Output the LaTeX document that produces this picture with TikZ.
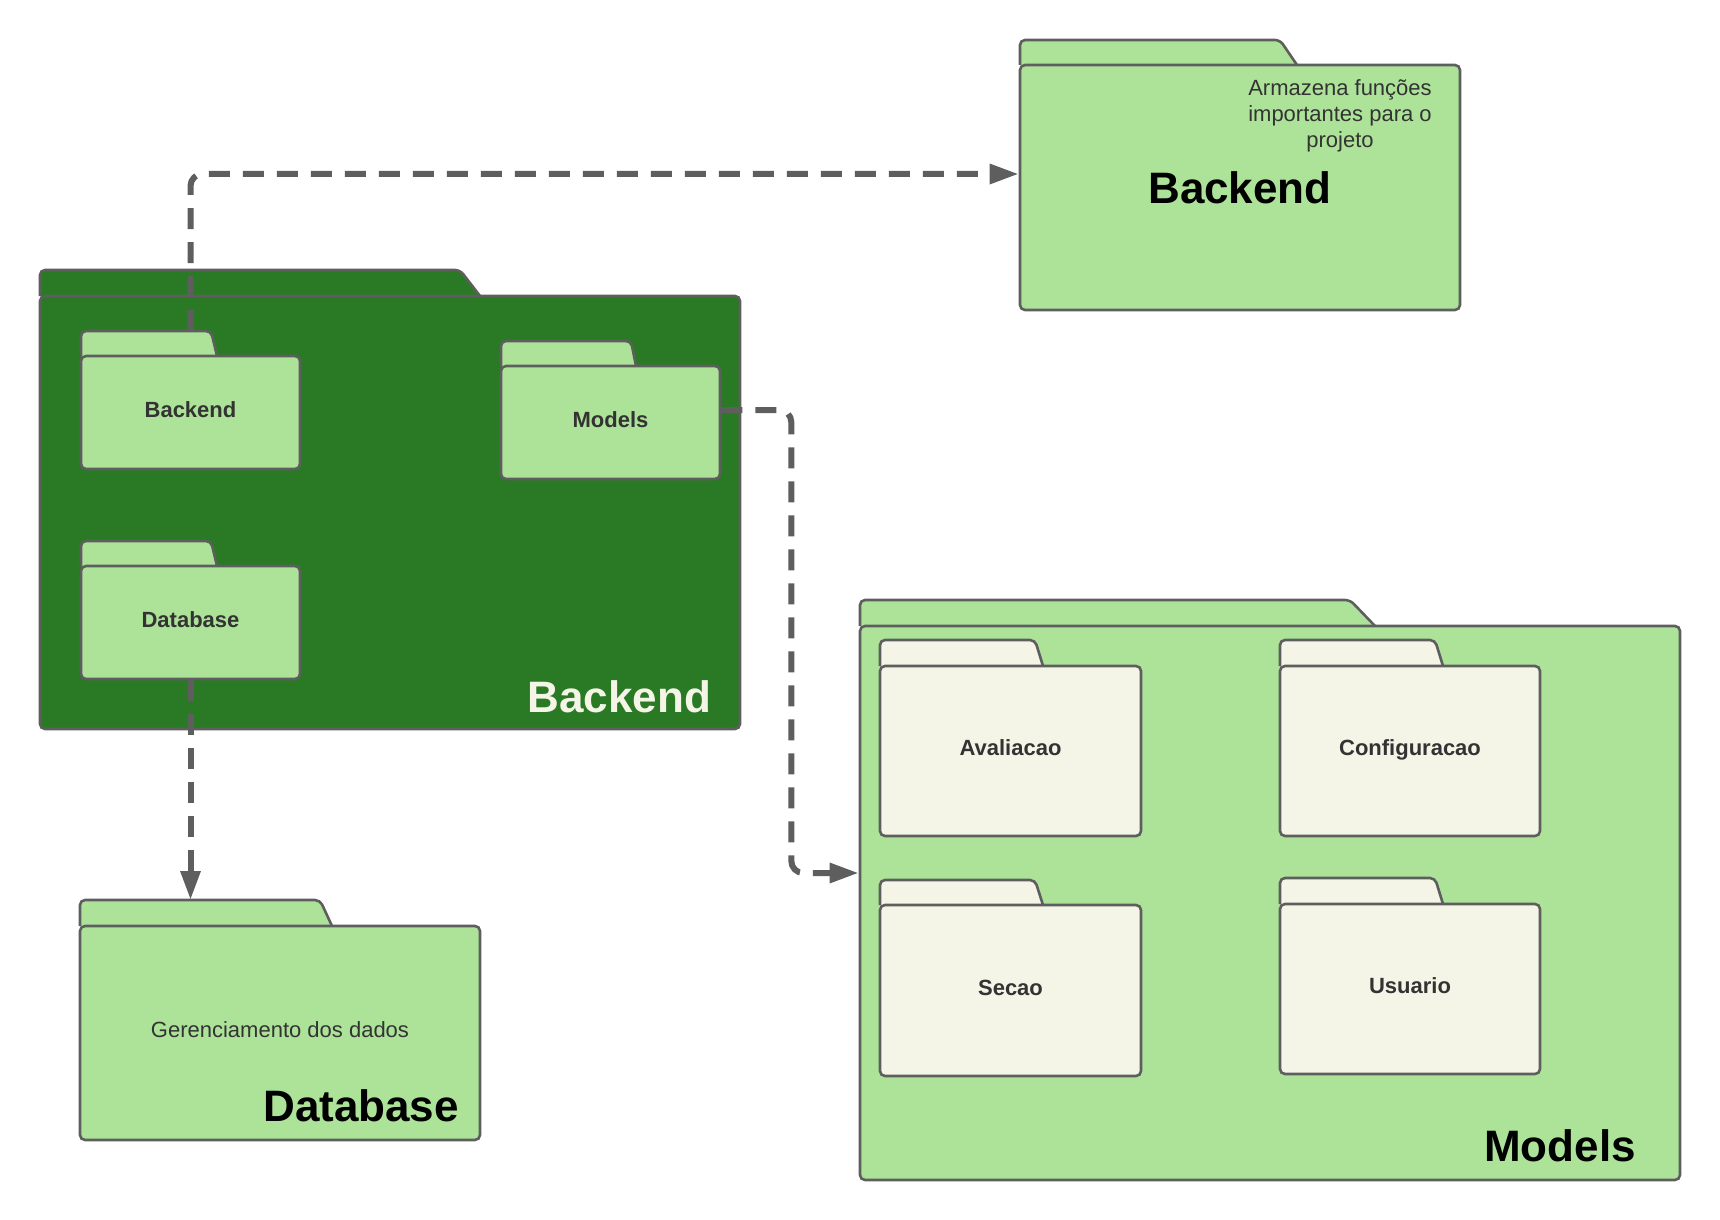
\documentclass[tikz,border=0pt]{standalone}
\usepackage{fontspec}
\setmainfont{Liberation Sans}
\usepackage{tikz}
\usetikzlibrary{arrows.meta,positioning,fit,calc}
\definecolor{dkgreen}{HTML}{2A7A25}
\definecolor{ltgreen}{HTML}{ADE399}
\definecolor{cream}{HTML}{F4F5E6}
\definecolor{strk}{HTML}{5E5E5E}
\definecolor{txt}{HTML}{333333}

\begin{document}
\begin{tikzpicture}[x={(0.5pt,0)},y={(0,-0.5pt)},
  pkgtab/.style={draw=strk,line width=1.3pt,rounded corners=2.5pt},
  pkgbody/.style={draw=strk,line width=1.3pt,rounded corners=2.5pt,inner sep=0pt},
  sublabel/.style={font=\bfseries\fontsize{11}{13}\selectfont,text=txt,text height=7.9pt,text depth=0pt,inner sep=0pt},
  title/.style={font=\bfseries\fontsize{22}{26}\selectfont,inner sep=0pt},
  remark/.style={font=\fontsize{11}{13}\selectfont,text=txt,align=center,inner sep=0pt},
  dep/.style={draw=strk,line width=3pt,dash pattern=on 10.5pt off 6.5pt,rounded corners=6pt,-{Triangle[length=14.5pt,width=9.5pt]}}]
\fill[white] (0,0) rectangle (1720,1220);
\useasboundingbox (0,0) rectangle (1720,1220);
\foreach \n/\xa/\ya/\yb/\xb/\yc/\sa/\sb/\col in {
  bkdpkg/40/270/296/740/729/460/480/dkgreen,
  bkdsub/81/331/356/300/469/211/217/ltgreen,
  mdlsub/501/341/366/720/479/631/636/ltgreen,
  dbsub/81/541/566/300/679/211/217/ltgreen,
  bkdnote/1020/40/65/1460/310/1280/1297/ltgreen,
  dbpkg/80/900/926/480/1140/320/332/ltgreen,
  mdlpkg/860/600/626/1680/1180/1350/1375/ltgreen,
  aval/880/640/666/1141/836/1035/1043/cream,
  conf/1280/640/666/1540/836/1435/1443/cream,
  secao/880/880/905/1141/1076/1035/1043/cream,
  usu/1280/878/904/1540/1074/1435/1443/cream} {
  \coordinate (\n-tab) at (\xa,\ya);
  \draw[pkgtab,fill=\col] (\xa,\yb) -- (\xa,\ya) -- (\sa,\ya) -- (\sb,\yb);
  \node[pkgbody,fill=\col,fit={(\xa,\yb) (\xb,\yc)}] (\n) {};
}
\foreach \n/\l in {bkdsub/Backend,mdlsub/Models,dbsub/Database,aval/Avaliacao,conf/Configuracao,secao/Secao,usu/Usuario}
  {\node[sublabel] (\n-lbl) at ([yshift=1.5pt]\n.center) {\l};}
\node[title,text=cream,anchor=base east] (bkdpkg-lbl) at ([xshift=-15pt,yshift=9pt]bkdpkg.south east) {Backend};
\node[title,anchor=base east] (dbpkg-lbl) at ([xshift=-11pt,yshift=10pt]dbpkg.south east) {Database};
\node[title,anchor=base east] (mdlpkg-lbl) at ([xshift=-22.5pt,yshift=10pt]mdlpkg.south east) {Models};
\node[title,anchor=base] (bkdnote-lbl) at ([yshift=-70pt]bkdnote.north) {Backend};
\node[remark,anchor=north] (bkdnote-txt) at ([xshift=50pt,yshift=-7.5pt]bkdnote.north) {Armazena funções\\importantes para o\\projeto};
\node[remark,text height=7.9pt,text depth=0pt] (dbpkg-txt) at ([yshift=1.5pt]dbpkg.center) {Gerenciamento dos dados};
\draw[dep] (bkdsub.north |- bkdsub-tab) |- ([yshift=6.75pt]bkdnote.west);
\draw[dep] ([yshift=6.25pt]mdlsub.east) -- ++(70,0) |- ([yshift=15pt]mdlpkg.west);
\draw[dep] (dbsub.south) -- (dbsub.south |- dbpkg-tab);
\end{tikzpicture}
\end{document}
